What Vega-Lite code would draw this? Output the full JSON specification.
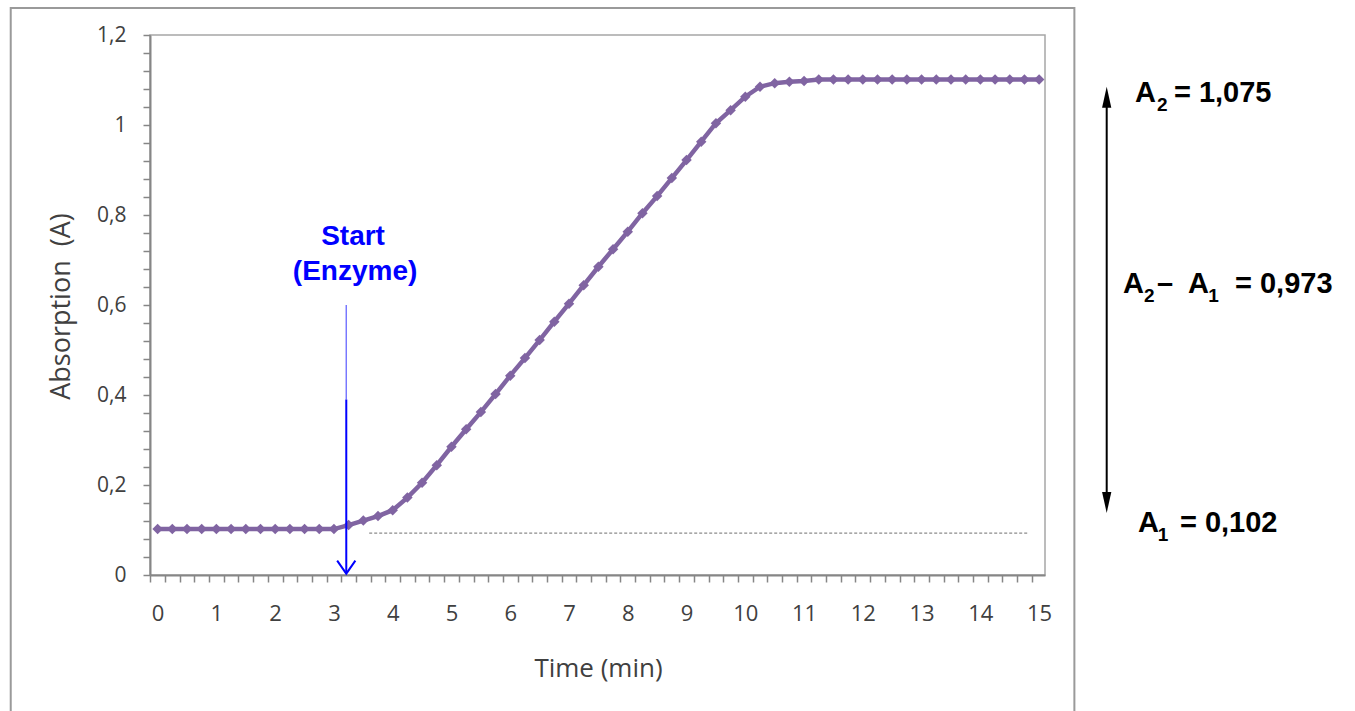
{
  "$schema": "https://vega.github.io/schema/vega-lite/v6.json",
  "width": 895,
  "height": 540,
  "autosize": {"type": "none"},
  "padding": {"left": 150, "top": 35, "right": 310, "bottom": 136},
  "background": "white",
  "config": {"view": {"stroke": "#a6a6a6", "strokeWidth": 1.5}},
  "datasets": {
    "kinetics": [
      {"t": 0, "A": 0.102}, {"t": 0.25, "A": 0.102}, {"t": 0.5, "A": 0.102}, {"t": 0.75, "A": 0.102},
      {"t": 1, "A": 0.102}, {"t": 1.25, "A": 0.102}, {"t": 1.5, "A": 0.102}, {"t": 1.75, "A": 0.102},
      {"t": 2, "A": 0.102}, {"t": 2.25, "A": 0.102}, {"t": 2.5, "A": 0.102}, {"t": 2.75, "A": 0.102},
      {"t": 3, "A": 0.102}, {"t": 3.25, "A": 0.111}, {"t": 3.5, "A": 0.121}, {"t": 3.75, "A": 0.131},
      {"t": 4, "A": 0.144}, {"t": 4.25, "A": 0.172}, {"t": 4.5, "A": 0.205}, {"t": 4.75, "A": 0.244},
      {"t": 5, "A": 0.285}, {"t": 5.25, "A": 0.324}, {"t": 5.5, "A": 0.362}, {"t": 5.75, "A": 0.402},
      {"t": 6, "A": 0.443}, {"t": 6.25, "A": 0.482}, {"t": 6.5, "A": 0.522}, {"t": 6.75, "A": 0.563},
      {"t": 7, "A": 0.603}, {"t": 7.25, "A": 0.644}, {"t": 7.5, "A": 0.685}, {"t": 7.75, "A": 0.724},
      {"t": 8, "A": 0.763}, {"t": 8.25, "A": 0.804}, {"t": 8.5, "A": 0.842}, {"t": 8.75, "A": 0.882},
      {"t": 9, "A": 0.922}, {"t": 9.25, "A": 0.963}, {"t": 9.5, "A": 1.004}, {"t": 9.75, "A": 1.033},
      {"t": 10, "A": 1.063}, {"t": 10.25, "A": 1.085}, {"t": 10.5, "A": 1.093}, {"t": 10.75, "A": 1.096},
      {"t": 11, "A": 1.098}, {"t": 11.25, "A": 1.101}, {"t": 11.5, "A": 1.101}, {"t": 11.75, "A": 1.101},
      {"t": 12, "A": 1.101}, {"t": 12.25, "A": 1.101}, {"t": 12.5, "A": 1.101}, {"t": 12.75, "A": 1.101},
      {"t": 13, "A": 1.101}, {"t": 13.25, "A": 1.101}, {"t": 13.5, "A": 1.101}, {"t": 13.75, "A": 1.101},
      {"t": 14, "A": 1.101}, {"t": 14.25, "A": 1.101}, {"t": 14.5, "A": 1.101}, {"t": 14.75, "A": 1.101},
      {"t": 15, "A": 1.101}
    ]
  },
  "layer": [
    {
      "data": {"name": "kinetics"},
      "mark": {
        "type": "line",
        "color": "#8064A2",
        "strokeWidth": 4.5,
        "point": {"shape": "diamond", "size": 110, "filled": true, "color": "#8064A2"}
      },
      "encoding": {
        "x": {
          "field": "t",
          "type": "quantitative",
          "scale": {"domain": [-0.13, 15.1], "nice": false, "zero": false},
          "axis": {
            "title": "Time (min)",
            "values": [0, 0.25, 0.5, 0.75, 1, 1.25, 1.5, 1.75, 2, 2.25, 2.5, 2.75, 3, 3.25, 3.5, 3.75, 4, 4.25, 4.5, 4.75, 5, 5.25, 5.5, 5.75, 6, 6.25, 6.5, 6.75, 7, 7.25, 7.5, 7.75, 8, 8.25, 8.5, 8.75, 9, 9.25, 9.5, 9.75, 10, 10.25, 10.5, 10.75, 11, 11.25, 11.5, 11.75, 12, 12.25, 12.5, 12.75, 13, 13.25, 13.5, 13.75, 14, 14.25, 14.5, 14.75, 15],
            "tickCount": 1000,
            "labelExpr": "datum.value % 1 === 0 ? format(datum.value, 'd') : ''",
            "labelOverlap": false,
            "labelFlush": false,
            "grid": false,
            "tickOffset": -7.35,
            "labelOffset": 7.35,
            "tickSize": 7,
            "tickWidth": 1.5,
            "tickColor": "#868686",
            "domainColor": "#868686",
            "domainWidth": 2,
            "labelFont": "Open Sans",
            "labelFontSize": 22,
            "labelColor": "#404040",
            "labelPadding": 21,
            "titleFont": "Open Sans",
            "titleFontSize": 26,
            "titleFontWeight": "normal",
            "titleColor": "#404040",
            "titleX": 448,
            "titleY": 93,
            "titleBaseline": "middle"
          }
        },
        "y": {
          "field": "A",
          "type": "quantitative",
          "scale": {"domain": [0, 1.2], "nice": false},
          "axis": {
            "title": "Absorption\u00a0 (A)",
            "values": [0, 0.04, 0.08, 0.12, 0.16, 0.2, 0.24, 0.28, 0.32, 0.36, 0.4, 0.44, 0.48, 0.52, 0.56, 0.6, 0.64, 0.68, 0.72, 0.76, 0.8, 0.84, 0.88, 0.92, 0.96, 1, 1.04, 1.08, 1.12, 1.16, 1.2],
            "tickCount": 1000,
            "labelExpr": "abs(datum.value * 5 - round(datum.value * 5)) < 0.001 ? replace(format(datum.value, '~g'), '.', ',') : ''",
            "labelOverlap": false,
            "labelFlush": false,
            "grid": false,
            "tickSize": 7,
            "tickWidth": 1.5,
            "tickColor": "#868686",
            "domainColor": "#868686",
            "domainWidth": 2,
            "labelFont": "Open Sans",
            "labelFontSize": 21,
            "labelColor": "#404040",
            "labelPadding": 17,
            "titleFont": "Open Sans",
            "titleFontSize": 27,
            "titleFontWeight": "normal",
            "titleColor": "#404040",
            "titleX": -89,
            "titleY": 271,
            "titleAngle": -90,
            "titleAlign": "center",
            "titleBaseline": "middle"
          }
        }
      }
    },
    {
      "data": {"values": [{}]},
      "mark": {"type": "rect", "fill": null, "fillOpacity": 0, "stroke": "#9a9a9a", "strokeWidth": 2},
      "encoding": {
        "x": {"datum": -2.5, "type": "quantitative"},
        "x2": {"datum": 15.6},
        "y": {"datum": -0.32, "type": "quantitative"},
        "y2": {"datum": 1.26}
      }
    },
    {
      "data": {"values": [{}]},
      "mark": {"type": "rule", "color": "#8c8c8c", "strokeWidth": 1.2, "strokeDash": [3, 2]},
      "encoding": {
        "x": {"datum": 3.6, "type": "quantitative"},
        "x2": {"datum": 14.83},
        "y": {"datum": 0.093, "type": "quantitative"}
      }
    },
    {
      "data": {"values": [{}]},
      "mark": {"type": "rule", "color": "#7878ff", "strokeWidth": 1.5},
      "encoding": {
        "x": {"datum": 3.21, "type": "quantitative"},
        "y": {"datum": 0.39, "type": "quantitative"},
        "y2": {"datum": 0.6}
      }
    },
    {
      "data": {"values": [{}]},
      "mark": {"type": "rule", "color": "#0000ff", "strokeWidth": 2},
      "encoding": {
        "x": {"datum": 3.21, "type": "quantitative"},
        "y": {"datum": 0.005, "type": "quantitative"},
        "y2": {"datum": 0.39}
      }
    },
    {
      "data": {"values": [{}]},
      "mark": {"type": "point", "shape": "M-0.7,-1L0,0L0.7,-1", "size": 676, "filled": false, "stroke": "#0000ff", "strokeWidth": 2, "opacity": 1},
      "encoding": {
        "x": {"datum": 3.21, "type": "quantitative"},
        "y": {"datum": 0.003, "type": "quantitative"}
      }
    },
    {
      "data": {"values": [{}]},
      "mark": {"type": "text", "text": "Start", "font": "Liberation Sans", "fontWeight": "bold", "fontSize": 28, "color": "#0000ff", "align": "center", "baseline": "alphabetic"},
      "encoding": {
        "x": {"datum": 3.325, "type": "quantitative"},
        "y": {"datum": 0.733, "type": "quantitative"}
      }
    },
    {
      "data": {"values": [{}]},
      "mark": {"type": "text", "text": "(Enzyme)", "font": "Liberation Sans", "fontWeight": "bold", "fontSize": 28, "color": "#0000ff", "align": "center", "baseline": "alphabetic"},
      "encoding": {
        "x": {"datum": 3.36, "type": "quantitative"},
        "y": {"datum": 0.656, "type": "quantitative"}
      }
    },
    {
      "data": {"values": [{}]},
      "mark": {"type": "rule", "color": "#000000", "strokeWidth": 2},
      "encoding": {
        "x": {"datum": 16.15, "type": "quantitative"},
        "y": {"datum": 0.16, "type": "quantitative"},
        "y2": {"datum": 1.065}
      }
    },
    {
      "data": {"values": [{}]},
      "mark": {"type": "point", "shape": "M0,0L-0.22,1L0.22,1Z", "size": 1764, "filled": true, "color": "#000000", "opacity": 1},
      "encoding": {
        "x": {"datum": 16.15, "type": "quantitative"},
        "y": {"datum": 1.085, "type": "quantitative"}
      }
    },
    {
      "data": {"values": [{}]},
      "mark": {"type": "point", "shape": "M0,0L-0.22,-1L0.22,-1Z", "size": 1764, "filled": true, "color": "#000000", "opacity": 1},
      "encoding": {
        "x": {"datum": 16.15, "type": "quantitative"},
        "y": {"datum": 0.138, "type": "quantitative"}
      }
    },
    {
      "data": {"values": [{}]},
      "mark": {"type": "text", "text": "A", "font": "Liberation Sans", "fontWeight": "bold", "fontSize": 29, "color": "#000000", "align": "left", "baseline": "alphabetic"},
      "encoding": {"x": {"datum": 16.632, "type": "quantitative"}, "y": {"datum": 1.0518, "type": "quantitative"}}
    },
    {
      "data": {"values": [{}]},
      "mark": {"type": "text", "text": "2", "font": "Liberation Sans", "fontWeight": "bold", "fontSize": 19, "color": "#000000", "align": "left", "baseline": "alphabetic"},
      "encoding": {"x": {"datum": 17.005, "type": "quantitative"}, "y": {"datum": 1.0318, "type": "quantitative"}}
    },
    {
      "data": {"values": [{}]},
      "mark": {"type": "text", "text": "= 1,075", "font": "Liberation Sans", "fontWeight": "bold", "fontSize": 29, "color": "#000000", "align": "left", "baseline": "alphabetic"},
      "encoding": {"x": {"datum": 17.294, "type": "quantitative"}, "y": {"datum": 1.0518, "type": "quantitative"}}
    },
    {
      "data": {"values": [{}]},
      "mark": {"type": "text", "text": "A", "font": "Liberation Sans", "fontWeight": "bold", "fontSize": 29, "color": "#000000", "align": "left", "baseline": "alphabetic"},
      "encoding": {"x": {"datum": 16.427, "type": "quantitative"}, "y": {"datum": 0.626, "type": "quantitative"}}
    },
    {
      "data": {"values": [{}]},
      "mark": {"type": "text", "text": "2", "font": "Liberation Sans", "fontWeight": "bold", "fontSize": 19, "color": "#000000", "align": "left", "baseline": "alphabetic"},
      "encoding": {"x": {"datum": 16.785, "type": "quantitative"}, "y": {"datum": 0.6067, "type": "quantitative"}}
    },
    {
      "data": {"values": [{}]},
      "mark": {"type": "text", "text": "–", "font": "Liberation Sans", "fontWeight": "bold", "fontSize": 29, "color": "#000000", "align": "left", "baseline": "alphabetic"},
      "encoding": {"x": {"datum": 17.005, "type": "quantitative"}, "y": {"datum": 0.626, "type": "quantitative"}}
    },
    {
      "data": {"values": [{}]},
      "mark": {"type": "text", "text": "A", "font": "Liberation Sans", "fontWeight": "bold", "fontSize": 29, "color": "#000000", "align": "left", "baseline": "alphabetic"},
      "encoding": {"x": {"datum": 17.533, "type": "quantitative"}, "y": {"datum": 0.626, "type": "quantitative"}}
    },
    {
      "data": {"values": [{}]},
      "mark": {"type": "text", "text": "1", "font": "Liberation Sans", "fontWeight": "bold", "fontSize": 19, "color": "#000000", "align": "left", "baseline": "alphabetic"},
      "encoding": {"x": {"datum": 17.88, "type": "quantitative"}, "y": {"datum": 0.6067, "type": "quantitative"}}
    },
    {
      "data": {"values": [{}]},
      "mark": {"type": "text", "text": "= 0,973", "font": "Liberation Sans", "fontWeight": "bold", "fontSize": 29, "color": "#000000", "align": "left", "baseline": "alphabetic"},
      "encoding": {"x": {"datum": 18.333, "type": "quantitative"}, "y": {"datum": 0.626, "type": "quantitative"}}
    },
    {
      "data": {"values": [{}]},
      "mark": {"type": "text", "text": "A", "font": "Liberation Sans", "fontWeight": "bold", "fontSize": 29, "color": "#000000", "align": "left", "baseline": "alphabetic"},
      "encoding": {"x": {"datum": 16.683, "type": "quantitative"}, "y": {"datum": 0.0962, "type": "quantitative"}}
    },
    {
      "data": {"values": [{}]},
      "mark": {"type": "text", "text": "1", "font": "Liberation Sans", "fontWeight": "bold", "fontSize": 19, "color": "#000000", "align": "left", "baseline": "alphabetic"},
      "encoding": {"x": {"datum": 17.02, "type": "quantitative"}, "y": {"datum": 0.0762, "type": "quantitative"}}
    },
    {
      "data": {"values": [{}]},
      "mark": {"type": "text", "text": "= 0,102", "font": "Liberation Sans", "fontWeight": "bold", "fontSize": 29, "color": "#000000", "align": "left", "baseline": "alphabetic"},
      "encoding": {"x": {"datum": 17.396, "type": "quantitative"}, "y": {"datum": 0.0962, "type": "quantitative"}}
    }
  ]
}
